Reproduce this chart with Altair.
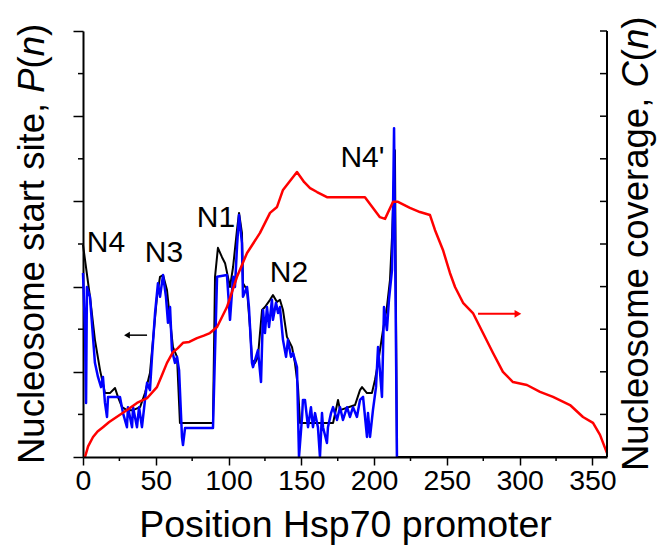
import altair as alt
import pandas as pd

FONT = "Liberation Sans"

# ---- data ----
black_pos = [0, 4.8, 8.2, 11.7, 15.1, 18.5, 22.0, 24.0, 26.8, 30.2, 34.4, 39.2, 42.6, 46.0, 48.1, 50.8,
             52.9, 55.0, 57.7, 59.8, 61.8, 64.6, 65.3, 66.6, 89.3, 90.7, 92.7, 95.5, 97.6, 101.0, 103.1,
             105.8, 107.2, 109.2, 109.9, 112.7, 114.7, 116.1, 118.2, 120.2, 121.6, 123.0, 125.0, 128.5,
             130.5, 133.3, 135.3, 137.4, 140.1, 143.6, 145.6, 147.7, 149.1, 171.8, 175.2, 176.6, 186.9,
             190.3, 191.7, 195.1, 198.5, 200.6, 202.7, 206.1, 208.8, 210.9, 212.3, 213.7, 214.3, 215.7, 360]
black_val = [4.98, 3.76, 2.75, 2.04, 1.50, 1.50, 1.62, 1.41, 1.17, 1.10, 1.10, 1.17, 1.50, 1.97, 2.75, 3.76,
             4.23, 4.27, 3.92, 3.22, 2.58, 2.35, 1.81, 0.80, 0.80, 4.23, 4.91, 4.69, 4.55, 3.99, 4.46,
             5.33, 5.73, 5.26, 4.08, 3.92, 3.05, 2.28, 2.21, 2.35, 2.91, 3.45, 3.52, 3.69,
             3.80, 3.64, 3.69, 3.45, 2.82, 2.58, 2.21, 1.64, 0.80, 0.80, 1.34, 1.10, 1.22,
             1.57, 1.64, 1.50, 1.50, 1.81, 2.21, 2.98, 3.52, 4.15, 5.16, 6.57, 7.20, 0, 0]

blue_pos = [0, 1.4, 2.1, 2.7, 4.8, 8.2, 10.3, 12.4, 13.7, 15.1, 16.5, 17.2, 25.4, 27.5, 30.2, 30.9, 33.7,
            34.4, 37.1, 38.5, 40.5, 42.6, 44.0, 46.0, 47.4, 49.5, 51.5, 52.9, 55.0, 57.0, 58.4, 59.8,
            61.1, 63.2, 64.6, 66.0, 68.0, 68.7, 70.1, 89.3, 92.1, 98.9, 101.0, 103.1, 104.4, 105.8,
            107.2, 109.2, 109.9, 112.7, 114.0, 116.1, 116.8, 120.2, 122.3, 123.7, 125.0, 126.4, 127.8,
            129.8, 130.5, 132.6, 134.0, 135.3, 137.4, 139.5, 140.8, 142.9, 144.3, 147.0, 148.4, 150.5,
            151.1, 152.5, 154.6, 156.6, 158.0, 159.4, 161.4, 162.8, 164.2, 164.9, 167.6, 168.3, 170.4,
            171.8, 174.5, 176.6, 178.6, 181.4, 183.4, 185.5, 188.2, 190.3, 192.4, 195.1, 195.8, 197.2,
            199.2, 201.3, 202.7, 205.4, 206.8, 208.8, 210.2, 212.3, 213.0, 213.7, 215.0, 215.7]
blue_val = [4.32, 2.98, 1.27, 3.99, 3.76, 2.21, 1.88, 1.64, 1.88, 1.27, 0.94, 1.41, 1.41, 1.03, 0.70, 1.17, 0.70,
            1.17, 0.70, 1.17, 0.70, 1.34, 1.74, 1.57, 2.35, 3.38, 4.08, 3.76, 4.27, 3.76, 3.15, 3.52,
            2.51, 2.21, 2.35, 2.04, 0.47, 0.28, 0.68, 0.68, 4.23, 4.27, 3.22, 4.23, 3.99, 4.93,
            5.68, 5.02, 3.76, 3.99, 3.52, 2.21, 2.11, 2.51, 1.76, 3.45, 2.91, 3.52, 3.05,
            3.69, 3.22, 3.62, 3.38, 3.52, 2.75, 2.35, 2.75, 2.35, 2.44, 2.11, 0, 0.94,
            1.34, 1.34, 0.70, 1.17, 0.70, 1.03, 0.70, 0, 1.03, 0.70, 0.33, 0.70, 1.03,
            1.17, 0.87, 1.17, 0.87, 1.17, 0.94, 1.17, 0.94, 1.34, 1.41, 0.47, 1.03, 0.47,
            1.10, 1.64, 2.58, 1.41, 3.52, 2.98, 3.69, 4.39, 5.80, 7.72, 2.68, 0]

red_pos = [1.4, 3.5, 6.9, 10.0, 13.7, 18.0, 25.4, 31.0, 37.1, 44.0, 50.8, 54.0, 57.7, 61.8, 65.0, 68.7,
           73.0, 78.3, 83.0, 87.2, 92.1, 98.9, 105.8, 112.7,
           121.6, 128.5, 133.3, 137.4, 147.0, 152.0, 156.0, 160.8, 167.6, 193.7, 204.0, 207.5, 213.0, 216.4,
           224.6, 231.5, 238.4, 241.8, 247.3, 252.1, 255.6, 261.1, 267.9, 274.8, 281.7, 288.5, 295.4, 305.0,
           314.0, 322.9, 334.6, 343.5, 350.4, 355.2, 360.0]
red_val = [0, 0.25, 0.47, 0.60, 0.70, 0.82, 0.99, 1.12, 1.27, 1.38, 1.64, 1.90, 2.21, 2.46, 2.55, 2.68,
           2.70, 2.79, 2.85, 2.91, 3.05, 3.52, 4.23, 4.79,
           5.26, 5.73, 5.87, 6.27, 6.69, 6.45, 6.31, 6.22, 6.10, 6.10, 5.63, 5.59, 5.99, 5.99,
           5.85, 5.75, 5.68, 5.33, 4.86, 4.32, 3.99, 3.62, 3.38, 2.91, 2.44, 2.00, 1.76, 1.69,
           1.53, 1.41, 1.22, 0.94, 0.80, 0.52, 0.09]

peak_labels = ["N4", "N3", "N1", "N2", "N4'"]
peak_pos = [15.8, 55.6, 91.4, 141.5, 192.0]
peak_val = [4.81, 4.58, 5.40, 4.11, 6.81]

arrow_left_pos = [30.2, 44.0]
arrow_left_val = [2.86, 2.86]
arrow_right_pos = [271.4, 298.8]
arrow_right_val = [3.36, 3.36]

x_major = [0, 50, 100, 150, 200, 250, 300, 350]
x_minor = [25, 75, 125, 175, 225, 275, 325]
y_major = [0, 2, 4, 6, 8, 10]
y_minor = [1, 3, 5, 7, 9]
y_right = [0, 1, 2, 3, 4, 5, 6, 7, 8, 9, 10]

# ---- layout ----
W, H = 524, 426
X0, Y0 = 83, 31

x_scale = alt.Scale(domain=[0, 360], nice=False, zero=False)
y_scale = alt.Scale(domain=[0, 10], nice=False, zero=False)

x_axis = alt.Axis(values=x_major, labelFontSize=28.5, labelFont=FONT, labelColor="black",
                  tickSize=8, tickWidth=1.5, tickColor="black", domainColor="black", domainWidth=2,
                  labelPadding=1, labelFlush=False, grid=False, zindex=1,
                  title="Position Hsp70 promoter", titleFont=FONT, titleFontSize=37.5,
                  titleFontWeight="normal", titleColor="black", titlePadding=12)
y_axis = alt.Axis(values=y_major, labels=False, tickSize=10, tickWidth=1.5, tickColor="black",
                  domainColor="black", domainWidth=2, grid=False, title=None)

ex = alt.X("pos:Q", scale=x_scale, axis=x_axis)
ey = alt.Y("val:Q", scale=y_scale, axis=y_axis)


def df(p, v):
    return pd.DataFrame({"pos": p, "val": v, "i": list(range(len(p)))})


black = alt.Chart(df(black_pos, black_val)).mark_line(color="black", strokeWidth=2, strokeJoin="round").encode(
    x=ex, y=ey, order="i:Q")
blue = alt.Chart(df(blue_pos, blue_val)).mark_line(color="#0000ff", strokeWidth=2.5, strokeJoin="round").encode(
    x=ex, y=ey, order="i:Q")
red = alt.Chart(df(red_pos, red_val)).mark_line(color="#ff0000", strokeWidth=2.5, strokeJoin="round").encode(
    x=ex, y=ey, order="i:Q")

labels = alt.Chart(pd.DataFrame({"pos": peak_pos, "val": peak_val, "t": peak_labels})).mark_text(
    font=FONT, fontSize=30, color="black", align="center", baseline="alphabetic").encode(x=ex, y=ey, text="t:N")

arrL = alt.Chart(df(arrow_left_pos, arrow_left_val)).mark_line(color="black", strokeWidth=1.5).encode(
    x=ex, y=ey, order="i:Q")
arrLh = alt.Chart(df(arrow_left_pos[:1], arrow_left_val[:1])).mark_point(
    shape="triangle-left", filled=True, color="black", size=45, opacity=1).encode(x=ex, y=ey)
arrR = alt.Chart(df(arrow_right_pos, arrow_right_val)).mark_line(color="#ff0000", strokeWidth=2).encode(
    x=ex, y=ey, order="i:Q")
arrRh = alt.Chart(df(arrow_right_pos[1:], arrow_right_val[1:])).mark_point(
    shape="triangle-right", filled=True, color="#ff0000", size=60, opacity=1).encode(x=ex, y=ey)

xmin = alt.Chart(pd.DataFrame({"pos": x_minor})).mark_rule(color="black", strokeWidth=1.5).encode(
    x=ex, y=alt.value(H), y2=alt.value(H + 4))
ymin = alt.Chart(pd.DataFrame({"val": y_minor})).mark_rule(color="black", strokeWidth=1.5).encode(
    y=ey, x=alt.value(-5), x2=alt.value(0))
yright = alt.Chart(pd.DataFrame({"val": y_right})).mark_rule(color="black", strokeWidth=1.5).encode(
    y=ey, x=alt.value(W - 7), x2=alt.value(W))
rline = alt.Chart(pd.DataFrame({"val": [0]})).mark_rule(color="black", strokeWidth=2).encode(
    x=alt.value(W), y=alt.value(0), y2=alt.value(H))

# rotated titles with italic parts (Arial advance widths, 1/1000 em)
def rotated_title(pieces, x_base, y_start, size):
    widths = {"Nucleosome start site, ": 10170, "Nucleosome coverage, ": 10504,
              "P": 667, "C": 722, "(": 333, "n": 556, ")": 333}
    layers = []
    y = y_start
    for txt, ital in pieces:
        layers.append(alt.Chart(pd.DataFrame({"a": [0]})).mark_text(
            text=txt, font=FONT, fontSize=size, fontStyle="italic" if ital else "normal",
            color="black", angle=270, align="left", baseline="alphabetic").encode(
            x=alt.value(x_base), y=alt.value(y)))
        y -= widths[txt] / 1000 * size
    return layers

TS = 36.5
left_title = rotated_title([("Nucleosome start site, ", False), ("P", True), ("(", False), ("n", True), (")", False)],
                           44 - X0, 464 - Y0, TS)
right_title = rotated_title([("Nucleosome coverage, ", False), ("C", True), ("(", False), ("n", True), (")", False)],
                            648 - X0, 471 - Y0, TS)

chart = alt.layer(
    black, blue, red, labels, arrL, arrLh, arrR, arrRh, xmin, ymin, yright, rline,
    *left_title, *right_title
).properties(
    width=W, height=H,
    autosize=alt.AutoSizeParams(type="none"),
    padding={"left": X0, "top": Y0, "right": 658 - X0 - W, "bottom": 558 - Y0 - H},
    background="white",
).configure_view(stroke=None)

chart.save("out.html", embed_options={"renderer": "svg", "actions": False})
